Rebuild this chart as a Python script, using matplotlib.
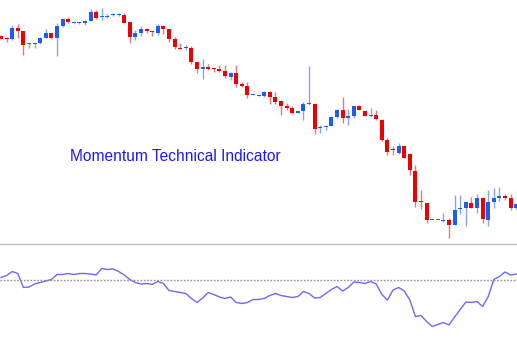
import numpy as np
import matplotlib
matplotlib.use('Agg')
import matplotlib.pyplot as plt

# candle prices (arbitrary units), one entry per bar
opens = [214, 212, 211, 222, 219, 206, 206.5, 207, 212, 217,
         212, 224, 231, 227, 227, 227, 229, 238, 233, 233,
         235, 235, 235, 228, 213, 217, 221, 219, 217, 224,
         221, 211, 202, 202, 202, 188, 181, 183, 181.5, 181,
         179, 173, 177, 166, 164, 155, 154.5, 154, 158, 153,
         149, 144, 142, 137, 139, 146, 146, 122, 123, 124,
         133, 140, 132, 134, 144, 139, 134.5, 135, 130, 110,
         101, 97, 104, 96, 79, 48.5, 47, 30, 30, 29,
         30, 25, 41, 42, 47, 42, 52, 30, 48, 52,
         54, 52, 42]
highs = [215, 213, 225, 226, 219, 207, 207, 213, 221, 217,
         227, 232, 233, 228, 228, 230, 241, 240, 242, 236,
         237, 237, 237, 228, 220, 224, 222, 219, 226, 225,
         221, 213, 207, 205, 204, 188, 191, 186, 182, 185,
         185, 178, 185, 168, 168, 156, 155.5, 159, 159, 158,
         150, 147, 144, 139, 148, 184, 147, 125, 125, 134,
         141, 153, 141, 144, 145, 140, 142, 140, 131, 112,
         104, 107, 104, 97, 85, 60, 47, 30.5, 30.5, 37,
         32, 55, 55, 48, 53, 56, 53, 60, 62, 63,
         56, 56, 47]
lows = [211, 208, 210, 212, 195, 202, 202, 206, 212, 211,
        194, 223, 227, 227, 226.5, 225, 229, 231, 230, 232,
        234, 234, 227, 207, 210, 214, 217, 214, 215, 216,
        208, 201, 201, 200, 186, 177, 171, 180, 178, 178,
        172, 170, 163, 163, 152, 155, 154, 153, 146, 146,
        135, 140, 136, 137, 130, 145, 116, 117, 120, 124,
        132, 127, 125, 132, 140, 134, 133, 130, 109, 95,
        95, 96, 92, 75, 43, 41, 27, 30, 30, 28,
        12, 25, 36, 24, 42, 37, 27, 24, 42, 49,
        50, 40, 41]
closes = [211, 211, 222, 219, 205, 207, 207, 212, 217, 212,
          224, 231, 228, 227.5, 227.5, 229, 238, 232, 233.5, 234,
          235.5, 236, 227, 213, 217, 221, 219, 218, 224, 221,
          211, 203, 201, 202.5, 188, 181, 183, 181, 181, 179,
          174, 177, 166, 164, 155, 155.5, 155, 158, 153, 148,
          144, 142, 137, 139, 146, 146.5, 121, 122.5, 124, 133,
          140, 132, 134, 144, 140, 134, 135, 131, 110, 98,
          100, 104, 92, 80, 48, 48, 30, 30.3, 30.3, 29.5,
          25, 40, 42, 48, 42, 52, 31, 48, 52, 54,
          52, 42, 46]

# momentum indicator, one value per bar
momentum = [100.04, 100.08, 100.16, 100.12, 99.84, 99.85, 99.91, 99.94, 99.97, 100.00,
            100.10, 100.10, 100.12, 100.10, 100.12, 100.12, 100.11, 100.09, 100.22, 100.20,
            100.21, 100.16, 100.09, 100.00, 99.94, 99.91, 99.92, 99.90, 99.96, 99.92,
            99.78, 99.76, 99.74, 99.72, 99.62, 99.54, 99.63, 99.74, 99.70, 99.65,
            99.62, 99.65, 99.54, 99.52, 99.54, 99.60, 99.60, 99.62, 99.68, 99.72,
            99.68, 99.66, 99.64, 99.66, 99.76, 99.72, 99.63, 99.64, 99.72, 99.80,
            99.86, 99.77, 99.84, 99.95, 99.94, 99.92, 99.96, 99.91, 99.70, 99.59,
            99.79, 99.84, 99.77, 99.59, 99.26, 99.28, 99.16, 99.06, 99.10, 99.14,
            99.09, 99.25, 99.40, 99.55, 99.54, 99.56, 99.46, 99.66, 100.00, 100.06,
            100.15, 100.09, 100.11]

UP_COLOR = '#1f5cf5'
DOWN_COLOR = '#ee0000'


def plot_candles(ax):
    idx = np.arange(len(opens))
    for i in idx:
        o, h, l, c = opens[i], highs[i], lows[i], closes[i]
        col = UP_COLOR if c >= o else DOWN_COLOR
        # wick
        ax.vlines(i, l, h, color=col, linewidth=1.0, alpha=0.55)
        # body, keep dojis visible
        bottom = min(o, c)
        height = max(abs(c - o), 0.9)
        ax.bar(i, height, bottom=bottom, width=0.72, color=col, linewidth=0)


def main():
    fig = plt.figure(figsize=(5.17, 3.39), dpi=100)

    # price panel
    ax = fig.add_axes([0, 96 / 339, 1, 243 / 339])
    plot_candles(ax)
    ax.set_xlim(-0.18, 92.14)
    ax.set_ylim(7, 250)
    ax.axis('off')
    ax.text(70 / 517, 0.358, 'Momentum Technical Indicator', transform=ax.transAxes,
            ha='left', va='center', color='#1a1aff', fontsize=11.2,
            family='Liberation Sans')

    # momentum panel
    ax2 = fig.add_axes([0, 0, 1, 95 / 339])
    ax2.plot(np.arange(len(momentum)), momentum, color='#6a6aff', linewidth=1.0)
    ax2.axhline(100, color='#909090', linestyle=(0, (1.2, 1.2)), linewidth=1.0)
    ax2.set_xlim(-0.18, 92.14)
    ax2.set_ylim(98.81, 100.71)
    ax2.set_xticks([])
    ax2.set_yticks([])
    for side in ['left', 'right', 'bottom']:
        ax2.spines[side].set_visible(False)
    ax2.spines['top'].set_color('#c0c0c0')
    ax2.spines['top'].set_linewidth(1.0)

    fig.savefig('out.png', dpi=100)


if __name__ == "__main__":
    main()
